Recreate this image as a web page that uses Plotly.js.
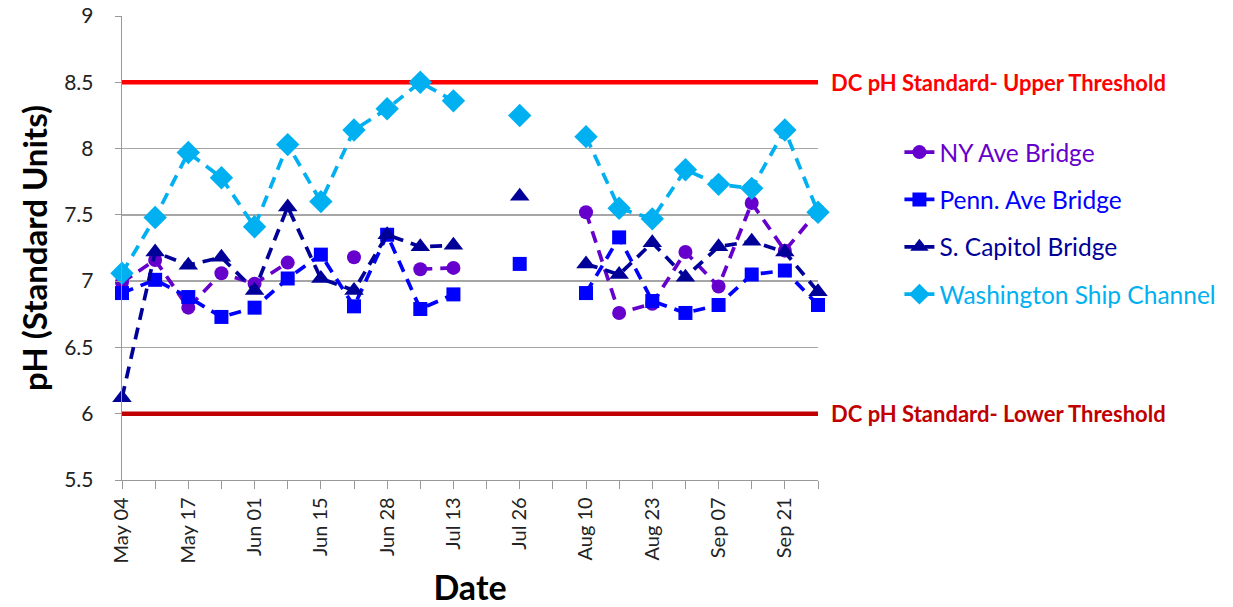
<!DOCTYPE html>
<html>
<head>
<meta charset="utf-8">
<script src="https://cdn.plot.ly/plotly-3.0.1.min.js"></script>
<style>html,body{margin:0;padding:0;background:#fff;}#chart{width:1233px;height:607px;}</style>
</head>
<body>
<div id="chart"></div>
<script>
// Sampling dates (category axis)
const categories = ["May 04","May 10","May 17","May 24","Jun 01","Jun 08","Jun 15","Jun 21","Jun 28","Jul 06","Jul 13","Jul 19","Jul 26","Aug 03","Aug 10","Aug 16","Aug 23","Aug 30","Sep 07","Sep 14","Sep 21","Sep 28"];
const tickLabels = ["May 04","","May 17","","Jun 01","","Jun 15","","Jun 28","","Jul 13","","Jul 26","","Aug 10","","Aug 23","","Sep 07","","Sep 21",""];

const nyAve        = [6.99,7.16,6.80,7.06,6.98,7.14,null,7.18,null,7.09,7.10,null,null,null,7.52,6.76,6.83,7.22,6.96,7.59,7.23,7.53];
const pennAve      = [6.91,7.01,6.88,6.73,6.80,7.02,7.20,6.81,7.35,6.79,6.90,null,7.13,null,6.91,7.33,6.85,6.76,6.82,7.05,7.08,6.82];
const sCapitol     = [6.12,7.22,7.12,7.18,6.93,7.56,7.02,6.93,7.35,7.26,7.27,null,7.64,null,7.13,7.05,7.29,7.03,7.26,7.30,7.22,6.92];
const washShip     = [7.06,7.48,7.97,7.78,7.41,8.03,7.60,8.14,8.30,8.50,8.36,null,8.25,null,8.09,7.55,7.47,7.84,7.73,7.70,8.14,7.52];

const upperThreshold = 8.5;
const lowerThreshold = 6.0;

const dashPat = "12px,8px";
function series(name, y, color, symbol, size, group){
  return {
    x: categories, y: y, type: "scatter", mode: "lines+markers",
    name: '<span style="color:' + color + '">' + name + '</span>',
    legendgroup: group,
    line: {color: color, width: 3.7, dash: dashPat},
    marker: {color: color, symbol: symbol, size: size},
    connectgaps: false, cliponaxis: false
  };
}
const first = categories[0], last = categories[categories.length-1];
const traces = [
  {x:[first,last], y:[upperThreshold,upperThreshold], type:"scatter", mode:"lines", line:{color:"#FF0000", width:4.5}, showlegend:false, hoverinfo:"skip", cliponaxis:false},
  {x:[first,last], y:[lowerThreshold,lowerThreshold], type:"scatter", mode:"lines", line:{color:"#C00000", width:4.5}, showlegend:false, hoverinfo:"skip", cliponaxis:false},
  series("NY Ave Bridge", nyAve, "#6600CC", "circle", 14, "a"),
  series("Penn. Ave Bridge", pennAve, "#0000FF", "square", 14, "b"),
  series("S. Capitol Bridge", sCapitol, "#000099", "triangle-up", 17, "c"),
  series("Washington Ship Channel", washShip, "#00B0F0", "diamond", 18, "d")
];

const fontFam = "Lato, 'Open Sans', sans-serif";
const layout = {
  width: 1233, height: 607,
  margin: {l:122, r:412, t:16, b:127},
  paper_bgcolor: "#fff", plot_bgcolor: "#fff",
  font: {family: fontFam, size: 20, color: "#222"},
  showlegend: true,
  legend: {x: 1.117, y: 0.755, xanchor: "left", yanchor: "top", font: {size: 24.5, family: fontFam}, tracegroupgap: 12.5, bgcolor: "rgba(0,0,0,0)"},
  xaxis: {
    type: "category", categoryorder: "array", categoryarray: categories,
    range: [0, categories.length-1],
    tickmode: "array", tickvals: categories, ticktext: tickLabels,
    tickangle: -90, ticks: "outside", ticklen: 8, tickcolor: "#999", tickwidth: 1,
    showline: true, linecolor: "#999", linewidth: 1.3,
    showgrid: false, zeroline: false,
    tickfont: {size: 20, color: "#222"},
    title: {text: "<b>Date</b>", font: {size: 34, color: "#000"}, standoff: 15}
  },
  yaxis: {
    range: [5.5, 9], dtick: 0.5, tick0: 5.5,
    ticks: "outside", ticklen: 6, tickcolor: "#999",
    showline: true, linecolor: "#999", linewidth: 1.3,
    showgrid: true, gridcolor: "#A6A6A6", gridwidth: 1.3, zeroline: false,
    tickfont: {size: 21, color: "#222"}, ticklabelstandoff: 17,
    title: {text: "<b>pH (Standard Units)</b>", font: {size: 33, color: "#000"}, standoff: 6}
  },
  annotations: [
    {xref:"paper", yref:"y", x:1.0157, y:upperThreshold, xanchor:"left", yanchor:"middle", showarrow:false,
     text:"<b>DC pH Standard- Upper Threshold</b>", font:{size:22, color:"#FF0000", family: fontFam}},
    {xref:"paper", yref:"y", x:1.0157, y:lowerThreshold, xanchor:"left", yanchor:"middle", showarrow:false,
     text:"<b>DC pH Standard- Lower Threshold</b>", font:{size:22, color:"#C00000", family: fontFam}}
  ]
};
Plotly.newPlot("chart", traces, layout, {displayModeBar: false, staticPlot: true});
</script>
</body>
</html>
